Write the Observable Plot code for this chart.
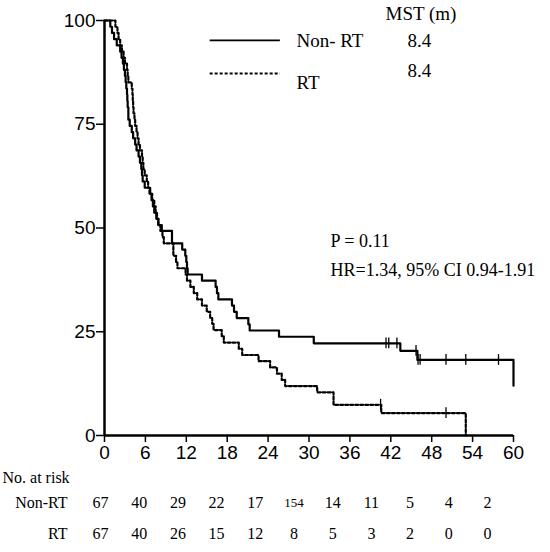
<!DOCTYPE html>
<html><head><meta charset="utf-8">
<script src="https://cdn.jsdelivr.net/npm/d3@7"></script>
<script src="https://cdn.jsdelivr.net/npm/@observablehq/plot@0.6"></script>
<style>body{margin:0;background:#fff} svg{display:block}</style>
</head><body><div id="chart"></div>
<script>
// ---- data ----
const nonRtTimes = [0,0.85,1.1,1.4,1.8,2.3,2.5,2.7,2.85,3.0,3.1,3.2,3.3,3.35,3.4,3.5,3.7,4.0,4.2,4.5,4.7,5.0,5.2,5.4,5.5,5.6,5.9,6.7,6.9,7.1,7.3,7.6,7.9,8.4,9.9,11.4,11.85,12.0,12.1,12.2,14.3,16.3,16.5,16.7,18.7,19.0,19.4,21.1,21.3,25.6,30.7,43.4,45.9,60];
const nonRtSurv  = [100,98.5,97.0,95.5,94.0,92.5,91.0,89.6,88.1,86.6,85.1,83.6,82.1,80.6,79.1,76.1,74.6,73.1,71.6,70.1,68.7,67.2,65.7,64.2,62.7,61.2,59.7,58.2,56.7,55.2,53.7,52.2,50.7,49.3,46.3,44.8,43.3,41.8,40.3,38.8,37.3,35.8,34.3,32.8,31.3,29.8,28.3,26.8,25.3,23.8,22.2,20.4,18.2,12];
const rtTimes = [0,1.6,1.9,2.06,2.3,2.55,2.8,3.0,3.3,3.4,3.5,4.0,4.1,4.15,4.2,4.26,4.4,4.5,4.7,4.85,5.0,5.2,5.5,5.6,5.7,5.9,6.2,6.4,6.6,7.0,7.3,7.5,7.7,7.9,8.2,8.5,8.7,10.1,10.5,10.7,11.9,12.1,12.6,13.1,13.6,14.3,15.0,15.5,15.8,16.0,17.2,17.5,19.7,20.2,22.6,24.3,25.3,26.0,26.5,31.2,33.6,40.6,53.0];
const rtSurv  = [100,98.5,97.0,95.5,94.0,92.5,91.0,89.6,88.1,86.6,85.1,83.6,82.1,80.6,79.1,77.6,76.1,74.6,73.1,71.6,70.1,68.7,67.2,65.7,64.2,62.7,61.2,59.7,58.2,56.7,55.2,53.7,52.2,50.7,49.3,47.8,46.3,43.3,41.8,40.3,38.8,37.3,35.8,34.3,32.8,31.3,29.8,28.3,26.9,25.4,23.9,22.4,20.9,19.4,17.9,16.4,14.9,13.4,11.9,10.4,7.4,5.4,0];
const nonRtCensorT = [41.3,41.7,42.9,45.7,46.0,46.3,50.1,53.0,57.8];
const nonRtCensorS = [22.2,22.2,22.2,20.4,18.2,18.2,18.2,18.2,18.2];
const rtCensorT = [40.5,50.1];
const rtCensorS = [7.4,5.4];
const xTicks = [0,6,12,18,24,30,36,42,48,54,60];
const yTicks = [0,25,50,75,100];
const groups = ["Non-RT","RT"];
const nonRtRisk = ["67","40","29","22","17","154","14","11","5","4","2"];
const rtRisk    = ["67","40","26","15","12","8","5","3","2","0","0"];
const legendLabels = ["Non- RT","RT"];
const mstHeader = "MST (m)";
const mstValues = ["8.4","8.4"];
const pText = "P = 0.11";
const hrText = "HR=1.34, 95% CI 0.94-1.91";
const riskTitle = "No. at risk";

// ---- tables ----
const nonRt = nonRtTimes.map((t,i)=>({t, s:nonRtSurv[i]}));
const rt = rtTimes.map((t,i)=>({t, s:rtSurv[i]}));
const censNon = nonRtCensorT.map((t,i)=>({t, s:nonRtCensorS[i]}));
const censRt = rtCensorT.map((t,i)=>({t, s:rtCensorS[i]}));
const riskData = [
  ...xTicks.map((t,i)=>({t, g:groups[0], n:nonRtRisk[i]})),
  ...xTicks.map((t,i)=>({t, g:groups[1], n:rtRisk[i]}))
];

const serif = "Liberation Serif";
const sans = "Liberation Sans";
const serifText = (arr, opts) => Plot.text(arr, {...opts, fontFamily:serif});

const main = Plot.plot({
  width:550, height:470,
  marginLeft:104, marginRight:37, marginTop:20, marginBottom:35,
  style:{fontFamily:sans, fontSize:"19px", color:"#000", background:"#fff", overflow:"visible"},
  x:{domain:[0,60]},
  y:{domain:[0,100]},
  marks:[
    Plot.axisX({ticks:xTicks, tickSize:7, tickPadding:3, strokeWidth:1.5, label:null, fontSize:19}),
    Plot.axisY({ticks:yTicks, tickSize:8, tickPadding:1, strokeWidth:1.5, label:null, fontSize:19}),
    Plot.ruleX([0],{y1:0, y2:100, strokeWidth:2.5}),
    Plot.ruleY([0],{x1:0, x2:60, strokeWidth:2.5}),
    Plot.line(nonRt,{x:"t", y:"s", curve:"step-after", strokeWidth:2.2}),
    Plot.line(rt,{x:"t", y:"s", curve:"step-after", strokeWidth:2.2, strokeDasharray:"3,2"}),
    Plot.ruleX(censNon,{x:"t", y1:d=>d.s-1.3, y2:d=>d.s+1.3, strokeWidth:1.3}),
    Plot.ruleX(censRt,{x:"t", y1:d=>d.s-1.3, y2:d=>d.s+1.3, strokeWidth:1.3}),
    // legend
    Plot.ruleY([95.2],{x1:15.5, x2:25.8, strokeWidth:1.8}),
    Plot.ruleY([87.2],{x1:15.5, x2:25.8, strokeWidth:2, strokeDasharray:"3,2"}),
    serifText([mstHeader],{frameAnchor:"top-left", dx:281, dy:-7, textAnchor:"start", lineAnchor:"middle", fontSize:19}),
    serifText([legendLabels[0]],{frameAnchor:"top-left", dx:192, dy:20, textAnchor:"start", lineAnchor:"middle", fontSize:19}),
    serifText([legendLabels[1]],{frameAnchor:"top-left", dx:192, dy:62, textAnchor:"start", lineAnchor:"middle", fontSize:19}),
    serifText([mstValues[0]],{frameAnchor:"top-left", dx:303, dy:20, textAnchor:"start", lineAnchor:"middle", fontSize:19}),
    serifText([mstValues[1]],{frameAnchor:"top-left", dx:303, dy:50, textAnchor:"start", lineAnchor:"middle", fontSize:19}),
    serifText([pText],{frameAnchor:"top-left", dx:226, dy:221, textAnchor:"start", lineAnchor:"middle", fontSize:18}),
    serifText([hrText],{frameAnchor:"top-left", dx:226, dy:250, textAnchor:"start", lineAnchor:"middle", fontSize:18})
  ]
});

const risk = Plot.plot({
  width:550, height:82,
  marginLeft:100, marginRight:63, marginTop:0, marginBottom:0,
  style:{fontFamily:serif, fontSize:"16px", color:"#000", background:"#fff", overflow:"visible"},
  x:{domain:[0,60], axis:null},
  y:{type:"point", domain:groups, range:[32,63], padding:0, axis:null},
  marks:[
    serifText(riskData,{x:"t", y:"g", text:"n", lineAnchor:"middle", fontSize:d=>d.n.length>2?13:16}),
    serifText(groups,{y:d=>d, frameAnchor:"left", dx:-33, textAnchor:"end", lineAnchor:"middle", fontSize:16}),
    serifText([riskTitle],{frameAnchor:"top-left", dx:-98, dy:7, textAnchor:"start", lineAnchor:"middle", fontSize:16})
  ]
});

const root = document.getElementById("chart");
root.appendChild(main);
root.appendChild(risk);
</script>
</body></html>
